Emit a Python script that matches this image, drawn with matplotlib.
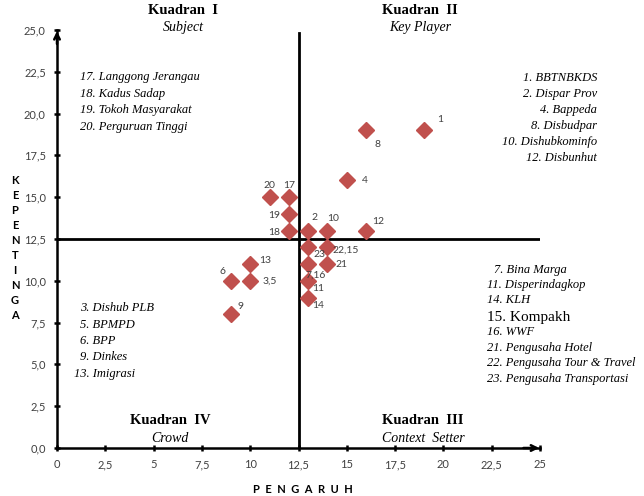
import matplotlib
matplotlib.use("Agg")
import matplotlib.pyplot as plt

# stakeholder positions (pengaruh, kepentingan)
labels = ["1", "8", "4", "12", "10", "2", "20", "17", "19", "18",
          "23", "22,15", "7,16", "21", "11", "14", "13", "3,5", "6", "9"]
pengaruh = [19, 16, 15, 16, 14, 13, 11, 12, 12, 12,
            13, 14, 13, 14, 13, 13, 10, 10, 9, 9]
kepentingan = [19, 19, 16, 13, 13, 13, 15, 15, 14, 13,
               12, 12, 11, 11, 10, 9, 11, 10, 10, 8]
# label offsets in pixels (dx, dy down)
offsets = [(16, -11), (11, 14), (18, 0), (12, -9), (6, -12), (6, -13), (0, -12), (0, -12),
           (-15, 2), (-15, 2), (11, 7), (18, 3), (7, 11), (14, 0), (10, 8), (10, 8),
           (15, -4), (20, 0), (-8, -9), (10, -8)]

xticks = [0, 2.5, 5, 7.5, 10, 12.5, 15, 17.5, 20, 22.5, 25]
xticklabels = ["0", "2,5", "5", "7,5", "10", "12,5", "15", "17,5", "20", "22,5", "25"]
yticks = [0, 2.5, 5, 7.5, 10, 12.5, 15, 17.5, 20, 22.5, 25]
yticklabels = ["0,0", "2,5", "5,0", "7,5", "10,0", "12,5", "15,0", "17,5", "20,0", "22,5", "25,0"]

quad1 = ["17. Langgong Jerangau", "18. Kadus Sadap", "19. Tokoh Masyarakat", "20. Perguruan Tinggi"]
quad2 = ["1. BBTNBKDS", "2. Dispar Prov", "4. Bappeda", "8. Disbudpar", "10. Dishubkominfo", "12. Disbunhut"]
quad3 = ["7. Bina Marga", "11. Disperindagkop", "14. KLH", "15. Kompakh", "16. WWF",
         "21. Pengusaha Hotel", "22. Pengusaha Tour & Travel", "23. Pengusaha Transportasi"]
quad4 = ["3. Dishub PLB", "5. BPMPD", "6. BPP", "9. Dinkes", "13. Imigrasi"]

W, H = 644, 496
fig = plt.figure(figsize=(W / 100, H / 100), dpi=100)
ax = fig.add_axes([57 / W, 48 / H, 483 / W, 418 / H])


def ftext(x, y, s, **kw):
    fig.text(x / W, 1 - y / H, s, **kw)


red = "#C0504D"
ax.plot(pengaruh, kepentingan, "D", color=red, ms=8, zorder=3, clip_on=False)
for lab, x, y, (dx, dy) in zip(labels, pengaruh, kepentingan, offsets):
    ax.annotate(lab, (x, y), xytext=(dx, -dy), textcoords="offset pixels",
                ha="center", va="center", fontsize=7.5, color="#404040", family="Lato")

# quadrant lines
ax.plot([12.5, 12.5], [0, 24.8], color="black", lw=2, zorder=2)
ax.plot([0, 25], [12.5, 12.5], color="black", lw=2, zorder=2)

ax.set_xlim(0, 25)
ax.set_ylim(0, 25)
for s in ["top", "right"]:
    ax.spines[s].set_visible(False)
for s in ["left", "bottom"]:
    ax.spines[s].set_linewidth(1.8)
ax.annotate("", xy=(25.1, 0), xytext=(24, 0),
            arrowprops=dict(arrowstyle="->", lw=1.8, color="black"), annotation_clip=False)
ax.annotate("", xy=(0, 25.1), xytext=(0, 24),
            arrowprops=dict(arrowstyle="->", lw=1.8, color="black"), annotation_clip=False)

ax.set_xticks(xticks)
ax.set_xticklabels(xticklabels)
ax.set_yticks(yticks)
ax.set_yticklabels(yticklabels)
ax.tick_params(direction="inout", length=4, width=1.8, labelsize=8, labelcolor="#404040", pad=6)
for t in ax.get_xticklabels() + ax.get_yticklabels():
    t.set_family("Lato")

# axis titles
ftext(15, 248, "\n".join("KEPENTINGA"), ha="center", va="center", fontsize=8,
      fontweight="bold", family="Lato", linespacing=1.45)
ftext(303, 484, "P  E  N  G  A  R  U  H", ha="center", va="top", fontsize=8,
      fontweight="bold", family="Lato")

serif = "Liberation Serif"
# quadrant titles
for x, t1, t2 in [(183, "Kuadran  I", "Subject"), (420, "Kuadran  II", "Key Player")]:
    ftext(x, 10, t1, ha="center", va="center", fontsize=10.5, fontweight="bold", family=serif)
    ftext(x, 28, t2, ha="center", va="center", fontsize=10, style="italic", family=serif)
for x, t1, t2 in [(170, "Kuadran  IV", "Crowd"), (423, "Kuadran  III", "Context  Setter")]:
    ftext(x, 420, t1, ha="center", va="center", fontsize=10.5, fontweight="bold", family=serif)
    ftext(x, 438, t2, ha="center", va="center", fontsize=10, style="italic", family=serif)

# lists
fs = 9
for i, s in enumerate(quad1):
    ftext(80, 77 + i * 16.5, s, ha="left", va="center", fontsize=fs, style="italic", family=serif)
for i, s in enumerate(quad2):
    ftext(597, 78 + i * 16, s, ha="right", va="center", fontsize=fs, style="italic", family=serif)
q3y = [270, 285, 300, 317, 332, 348, 363, 379]
for s, y in zip(quad3, q3y):
    big = s.startswith("15.")
    ftext(494 if s.startswith("7.") else 487, y, s, ha="left", va="center",
          fontsize=11 if big else fs, style="normal" if big else "italic", family=serif)
for i, s in enumerate(quad4):
    ftext(74 if s.startswith("13") else 80, 308 + i * 16.5, s, ha="left", va="center",
          fontsize=fs, style="italic", family=serif)

fig.savefig("out.png", dpi=100)
